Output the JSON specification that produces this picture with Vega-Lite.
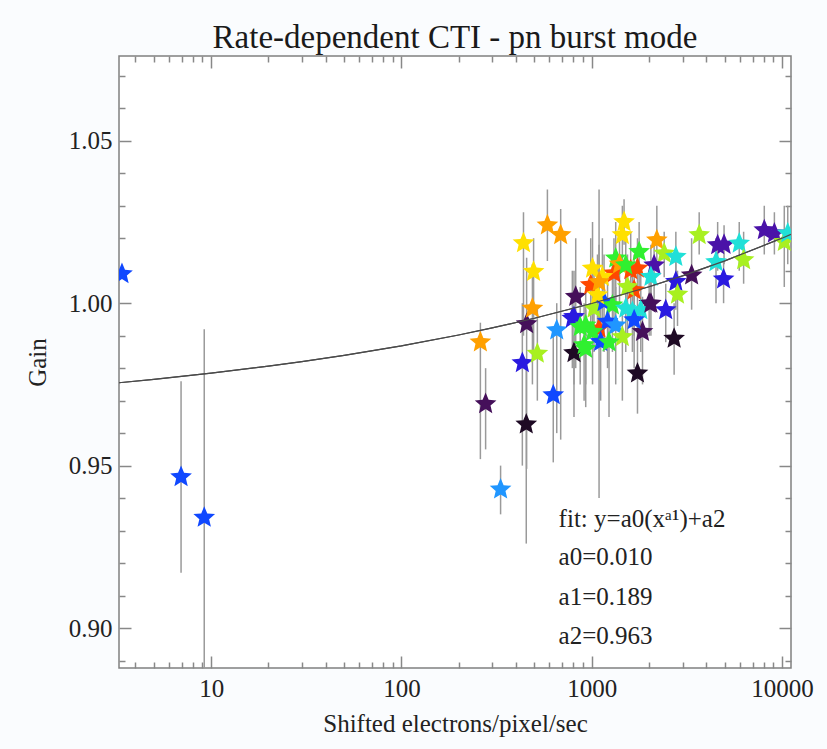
{
  "$schema": "https://vega.github.io/schema/vega-lite/v6.json",
  "width": 672,
  "height": 612,
  "autosize": {"type": "none"},
  "padding": {"left": 119, "top": 56, "right": 36, "bottom": 81},
  "background": "#fafcfe",
  "title": {"text": "Rate-dependent CTI - pn burst mode", "font": "Liberation Serif", "fontSize": 33, "fontWeight": "normal", "color": "#1a1a1a", "anchor": "middle", "offset": 0},
  "datasets": {
    "pts": [
      {"x": 3.40, "y": 1.009, "lo": 1.008, "hi": 1.010, "c": 4},
      {"x": 6.95, "y": 0.9465, "lo": 0.917, "hi": 0.976, "c": 4},
      {"x": 9.2, "y": 0.934, "lo": 0.870, "hi": 0.992, "c": 4},
      {"x": 260, "y": 0.988, "lo": 0.952, "hi": 0.994, "c": 10},
      {"x": 277, "y": 0.969, "lo": 0.955, "hi": 0.980, "c": 1},
      {"x": 438, "y": 1.0185, "lo": 0.990, "hi": 1.028, "c": 9},
      {"x": 455, "y": 0.9936, "lo": 0.949, "hi": 1.014, "c": 1},
      {"x": 453, "y": 0.9627, "lo": 0.926, "hi": 0.980, "c": 0},
      {"x": 432, "y": 0.9816, "lo": 0.950, "hi": 1.000, "c": 3},
      {"x": 495, "y": 1.0097, "lo": 0.985, "hi": 1.020, "c": 9},
      {"x": 488, "y": 0.9984, "lo": 0.975, "hi": 1.012, "c": 10},
      {"x": 518, "y": 0.9845, "lo": 0.970, "hi": 0.999, "c": 8},
      {"x": 585, "y": 1.024, "lo": 1.013, "hi": 1.035, "c": 10},
      {"x": 687, "y": 1.021, "lo": 0.958, "hi": 1.029, "c": 10},
      {"x": 628, "y": 0.9717, "lo": 0.951, "hi": 0.990, "c": 4},
      {"x": 655, "y": 0.9917, "lo": 0.960, "hi": 1.000, "c": 5},
      {"x": 332, "y": 0.9427, "lo": 0.935, "hi": 0.950, "c": 5},
      {"x": 807, "y": 0.9958, "lo": 0.975, "hi": 1.010, "c": 3},
      {"x": 807, "y": 0.9847, "lo": 0.965, "hi": 0.990, "c": 0},
      {"x": 824, "y": 1.002, "lo": 0.980, "hi": 1.020, "c": 1},
      {"x": 1093, "y": 0.9922, "lo": 0.940, "hi": 1.035, "c": 11},
      {"x": 1479, "y": 1.025, "lo": 1.018, "hi": 1.032, "c": 9},
      {"x": 1449, "y": 1.021, "lo": 1.012, "hi": 1.030, "c": 9},
      {"x": 2199, "y": 1.0194, "lo": 1.010, "hi": 1.030, "c": 10},
      {"x": 2404, "y": 1.0153, "lo": 1.008, "hi": 1.022, "c": 8},
      {"x": 3671, "y": 1.021, "lo": 1.015, "hi": 1.028, "c": 8},
      {"x": 4590, "y": 1.0179, "lo": 1.010, "hi": 1.025, "c": 2},
      {"x": 4960, "y": 1.018, "lo": 1.012, "hi": 1.024, "c": 2},
      {"x": 5960, "y": 1.0184, "lo": 1.010, "hi": 1.025, "c": 6},
      {"x": 6285, "y": 1.0133, "lo": 1.006, "hi": 1.022, "c": 8},
      {"x": 4500, "y": 1.0127, "lo": 1.000, "hi": 1.020, "c": 6},
      {"x": 4932, "y": 1.0074, "lo": 1.000, "hi": 1.013, "c": 3},
      {"x": 3350, "y": 1.0086, "lo": 0.998, "hi": 1.020, "c": 1},
      {"x": 2768, "y": 1.0143, "lo": 1.005, "hi": 1.022, "c": 6},
      {"x": 2128, "y": 1.0117, "lo": 1.000, "hi": 1.020, "c": 2},
      {"x": 2768, "y": 1.0066, "lo": 0.998, "hi": 1.015, "c": 3},
      {"x": 2824, "y": 1.0027, "lo": 0.993, "hi": 1.010, "c": 8},
      {"x": 2449, "y": 0.9979, "lo": 0.988, "hi": 1.006, "c": 3},
      {"x": 2004, "y": 0.9999, "lo": 0.990, "hi": 1.010, "c": 1},
      {"x": 2711, "y": 0.9891, "lo": 0.978, "hi": 1.000, "c": 0},
      {"x": 1740, "y": 0.9784, "lo": 0.966, "hi": 0.995, "c": 0},
      {"x": 1849, "y": 0.9912, "lo": 0.975, "hi": 1.002, "c": 1},
      {"x": 1671, "y": 1.004, "lo": 0.990, "hi": 1.015, "c": 11},
      {"x": 1740, "y": 1.0107, "lo": 0.995, "hi": 1.020, "c": 11},
      {"x": 1309, "y": 1.0092, "lo": 0.995, "hi": 1.020, "c": 11},
      {"x": 988, "y": 1.0056, "lo": 0.990, "hi": 1.020, "c": 11},
      {"x": 1775, "y": 1.0158, "lo": 1.005, "hi": 1.025, "c": 7},
      {"x": 1337, "y": 1.0138, "lo": 1.000, "hi": 1.025, "c": 7},
      {"x": 2047, "y": 1.0081, "lo": 0.998, "hi": 1.018, "c": 6},
      {"x": 1811, "y": 0.9979, "lo": 0.985, "hi": 1.010, "c": 6},
      {"x": 1010, "y": 1.0107, "lo": 0.995, "hi": 1.025, "c": 9},
      {"x": 1138, "y": 1.0081, "lo": 0.990, "hi": 1.020, "c": 9},
      {"x": 791, "y": 0.9953, "lo": 0.980, "hi": 1.010, "c": 3},
      {"x": 912, "y": 0.9871, "lo": 0.970, "hi": 1.000, "c": 7},
      {"x": 930, "y": 0.9932, "lo": 0.975, "hi": 1.005, "c": 7},
      {"x": 1028, "y": 0.9984, "lo": 0.985, "hi": 1.010, "c": 8},
      {"x": 1161, "y": 1.0004, "lo": 0.985, "hi": 1.015, "c": 4},
      {"x": 1285, "y": 0.9994, "lo": 0.985, "hi": 1.012, "c": 7},
      {"x": 1510, "y": 0.9984, "lo": 0.985, "hi": 1.010, "c": 6},
      {"x": 1211, "y": 0.9943, "lo": 0.980, "hi": 1.008, "c": 4},
      {"x": 1337, "y": 0.9932, "lo": 0.975, "hi": 1.005, "c": 5},
      {"x": 1449, "y": 0.9896, "lo": 0.970, "hi": 1.000, "c": 8},
      {"x": 1010, "y": 0.9912, "lo": 0.975, "hi": 1.005, "c": 7},
      {"x": 1114, "y": 0.9881, "lo": 0.970, "hi": 1.000, "c": 4},
      {"x": 1233, "y": 0.988, "lo": 0.965, "hi": 1.000, "c": 7},
      {"x": 1636, "y": 0.9973, "lo": 0.985, "hi": 1.010, "c": 6},
      {"x": 1671, "y": 0.9948, "lo": 0.980, "hi": 1.005, "c": 4},
      {"x": 1072, "y": 1.0025, "lo": 0.990, "hi": 1.015, "c": 9},
      {"x": 1542, "y": 1.005, "lo": 0.990, "hi": 1.015, "c": 8},
      {"x": 930, "y": 0.986, "lo": 0.968, "hi": 0.998, "c": 7},
      {"x": 870, "y": 0.9927, "lo": 0.975, "hi": 1.005, "c": 7},
      {"x": 1603, "y": 1.0102, "lo": 0.998, "hi": 1.022, "c": 11},
      {"x": 1400, "y": 1.012, "lo": 1.000, "hi": 1.022, "c": 10},
      {"x": 1093, "y": 1.0065, "lo": 0.995, "hi": 1.018, "c": 10},
      {"x": 1510, "y": 1.0117, "lo": 1.000, "hi": 1.022, "c": 7},
      {"x": 2047, "y": 0.9999, "lo": 0.990, "hi": 1.010, "c": 1},
      {"x": 8070, "y": 1.0225, "lo": 1.015, "hi": 1.030, "c": 2},
      {"x": 9120, "y": 1.0215, "lo": 1.015, "hi": 1.028, "c": 2},
      {"x": 10280, "y": 1.0189, "lo": 1.005, "hi": 1.030, "c": 8},
      {"x": 10720, "y": 1.0215, "lo": 1.012, "hi": 1.030, "c": 6}
    ],
    "fit": [
      {"x": 3.28, "y": 0.975517},
      {"x": 5, "y": 0.976555},
      {"x": 10, "y": 0.978453},
      {"x": 20, "y": 0.980617},
      {"x": 30, "y": 0.982019},
      {"x": 50, "y": 0.983946},
      {"x": 100, "y": 0.986879},
      {"x": 200, "y": 0.990220},
      {"x": 300, "y": 0.992388},
      {"x": 500, "y": 0.995368},
      {"x": 1000, "y": 0.999899},
      {"x": 2000, "y": 1.005061},
      {"x": 3000, "y": 1.008411},
      {"x": 5000, "y": 1.013016},
      {"x": 10000, "y": 1.020018},
      {"x": 11150, "y": 1.021203}
    ],
    "notes": [
      {"x": 670, "y": 0.9311, "label": "fit: y=a0(xᵃ¹)+a2"},
      {"x": 670, "y": 0.9193, "label": "a0=0.010"},
      {"x": 670, "y": 0.9070, "label": "a1=0.189"},
      {"x": 670, "y": 0.8952, "label": "a2=0.963"}
    ]
  },
  "layer": [
    {
      "data": {"name": "pts"},
      "mark": {"type": "rule", "color": "#9a9a9a", "strokeWidth": 1.5, "clip": true},
      "encoding": {
        "x": {"field": "x", "type": "quantitative",
          "scale": {"type": "log", "domain": [3.28, 11150], "nice": false},
          "axis": {"orient": "bottom", "title": "Shifted electrons/pixel/sec",
            "values": [4,5,6,7,8,9,10,20,30,40,50,60,70,80,90,100,200,300,400,500,600,700,800,900,1000,2000,3000,4000,5000,6000,7000,8000,9000,10000],
            "tickSize": {"condition": {"test": "abs(log(datum.value)/LN10 - round(log(datum.value)/LN10)) < 0.001", "value": -12}, "value": -6},
            "labelExpr": "abs(log(datum.value)/LN10 - round(log(datum.value)/LN10)) < 0.001 ? format(datum.value, 'd') : ''",
            "labelPadding": 20, "titlePadding": 4, "labelOverlap": false, "labelFlush": false, "labelBound": false}},
        "y": {"field": "lo", "type": "quantitative",
          "scale": {"domain": [0.8877, 1.0761], "nice": false, "zero": false},
          "axis": {"orient": "left", "title": "Gain",
            "values": [0.89,0.9,0.91,0.92,0.93,0.94,0.95,0.96,0.97,0.98,0.99,1.0,1.01,1.02,1.03,1.04,1.05,1.06,1.07],
            "tickSize": {"condition": {"test": "abs(datum.value*20 - round(datum.value*20)) < 0.001", "value": -12}, "value": -6},
            "labelExpr": "abs(datum.value*20 - round(datum.value*20)) < 0.001 ? format(datum.value, '.2f') : ''",
            "labelPadding": 19, "titlePadding": 18, "labelOverlap": false, "labelFlush": false, "labelBound": false}},
        "y2": {"field": "hi"}
      }
    },
    {
      "data": {"name": "fit"},
      "mark": {"type": "line", "color": "#4a4a4a", "strokeWidth": 1.2, "clip": true},
      "encoding": {
        "x": {"field": "x", "type": "quantitative",
          "scale": {"type": "log", "domain": [3.28, 11150], "nice": false},
          "axis": {"orient": "top", "title": null, "labels": false,
            "values": [4,5,6,7,8,9,10,20,30,40,50,60,70,80,90,100,200,300,400,500,600,700,800,900,1000,2000,3000,4000,5000,6000,7000,8000,9000,10000],
            "tickSize": {"condition": {"test": "abs(log(datum.value)/LN10 - round(log(datum.value)/LN10)) < 0.001", "value": -12}, "value": -6}}},
        "y": {"field": "y", "type": "quantitative",
          "scale": {"domain": [0.8877, 1.0761], "nice": false, "zero": false},
          "axis": {"orient": "right", "title": null, "labels": false,
            "values": [0.89,0.9,0.91,0.92,0.93,0.94,0.95,0.96,0.97,0.98,0.99,1.0,1.01,1.02,1.03,1.04,1.05,1.06,1.07],
            "tickSize": {"condition": {"test": "abs(datum.value*20 - round(datum.value*20)) < 0.001", "value": -12}, "value": -6}}}
      }
    },
    {
      "data": {"name": "pts"},
      "mark": {"type": "point", "filled": true, "opacity": 1, "strokeWidth": 0, "clip": true,
        "shape": "M0,-1L0.2645,-0.364L0.951,-0.309L0.428,0.139L0.588,0.809L0,0.45L-0.588,0.809L-0.428,0.139L-0.951,-0.309L-0.2645,-0.364Z",
        "size": 520},
      "encoding": {
        "x": {"field": "x", "type": "quantitative", "scale": {"type": "log", "domain": [3.28, 11150], "nice": false}, "axis": null},
        "y": {"field": "y", "type": "quantitative", "scale": {"domain": [0.8877, 1.0761], "nice": false, "zero": false}, "axis": null},
        "color": {"field": "c", "type": "ordinal", "legend": null,
          "scale": {"domain": [0,1,2,3,4,5,6,7,8,9,10,11],
            "range": ["#1e0a24", "#45105a", "#4a12a8", "#2a1ae0", "#1048ff", "#2096ff", "#20e0d8", "#30f030", "#a8f020", "#ffe000", "#ffa000", "#ff4800"]}}
      }
    },
    {
      "data": {"name": "fit"},
      "mark": {"type": "line", "color": "#4a4a4a", "strokeWidth": 1.2, "clip": true},
      "encoding": {
        "x": {"field": "x", "type": "quantitative", "scale": {"type": "log", "domain": [3.28, 11150], "nice": false}, "axis": null},
        "y": {"field": "y", "type": "quantitative", "scale": {"domain": [0.8877, 1.0761], "nice": false, "zero": false}, "axis": null}
      }
    },
    {
      "data": {"name": "notes"},
      "mark": {"type": "text", "align": "left", "baseline": "alphabetic", "font": "Liberation Serif", "fontSize": 25, "color": "#222222"},
      "encoding": {
        "x": {"field": "x", "type": "quantitative", "scale": {"type": "log", "domain": [3.28, 11150], "nice": false}, "axis": null},
        "y": {"field": "y", "type": "quantitative", "scale": {"domain": [0.8877, 1.0761], "nice": false, "zero": false}, "axis": null},
        "text": {"field": "label"}
      }
    }
  ],
  "resolve": {"axis": {"x": "independent", "y": "independent"}},
  "config": {
    "view": {"stroke": "#808080", "strokeWidth": 1.5, "fill": "#ffffff"},
    "font": "Liberation Serif",
    "axis": {"domain": false, "grid": false, "labelFont": "Liberation Serif", "labelFontSize": 25, "labelColor": "#222222",
      "titleFont": "Liberation Serif", "titleFontSize": 25, "titleFontWeight": "normal", "titleColor": "#222222",
      "tickColor": "#888888", "tickWidth": 1.5}
  }
}
